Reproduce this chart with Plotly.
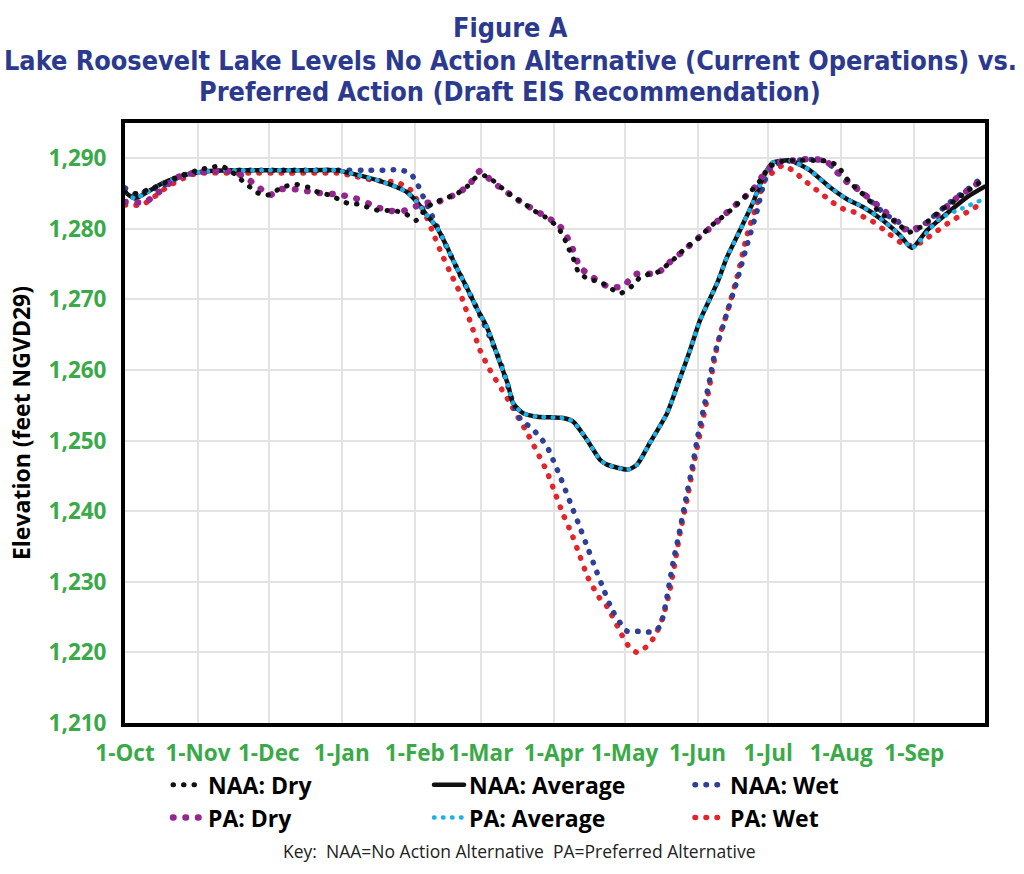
import plotly.graph_objects as go

# ---------------- data (x = days after 1-Oct, y = elevation ft NGVD29) ----------------
month_labels = ["1-Oct", "1-Nov", "1-Dec", "1-Jan", "1-Feb", "1-Mar",
                "1-Apr", "1-May", "1-Jun", "1-Jul", "1-Aug", "1-Sep"]
month_days = [0, 31, 61, 92, 123, 151, 182, 212, 243, 273, 304, 335]
y_ticks = [1210, 1220, 1230, 1240, 1250, 1260, 1270, 1280, 1290]

naa_dry_x = [0, 5.5, 9.3, 14.9, 19.1, 24.2, 31.8, 36.1, 40.7, 44.6, 48.0, 51.8, 55.2, 58.6,
             60.7, 63.7, 66.6, 72.6, 77.7, 81.9, 86.6, 90.8, 94.7, 98.9, 102.7, 107.8, 113.8,
             118.8, 123.5, 128.2, 132.9, 140.9, 145.2, 149.0, 153.2, 157.5, 161.7, 166.0,
             169.8, 174.0, 178.3, 182.9, 185.9, 188.0, 190.2, 192.3, 196.5, 201.6, 205.9,
             210.5, 215.2, 218.2, 222.4, 226.2, 230.5, 233.9, 237.3, 241.1, 244.9, 247.9,
             251.7, 255.5, 258.9, 262.3, 266.1, 270.4, 272.9, 279.3, 285.2, 290.7, 298.0,
             302.2, 307.7, 312.0, 317.1, 320.5, 327.7, 332.3, 337.4, 342.9, 347.2, 351.4,
             355.7, 359.5, 362.9, 365]
naa_dry_y = [1285.2, 1285.0, 1285.5, 1286.2, 1286.9, 1287.6, 1288.4, 1288.7, 1288.9, 1288.3,
             1287.3, 1286.3, 1285.3, 1284.8, 1284.8, 1285.3, 1285.9, 1286.3, 1285.9, 1285.2,
             1284.8, 1284.2, 1283.6, 1283.5, 1283.1, 1282.6, 1282.6, 1282.2, 1281.2, 1283.1,
             1283.9, 1285.0, 1286.0, 1287.3, 1287.5, 1286.5, 1285.3, 1284.3, 1283.5, 1282.5,
             1281.7, 1280.5, 1279.1, 1277.4, 1275.9, 1274.0, 1272.9, 1272.5, 1271.6, 1270.9,
             1271.9, 1273.0, 1273.6, 1273.9, 1275.0, 1276.0, 1277.1, 1278.1, 1279.1, 1280.2,
             1281.2, 1282.2, 1283.2, 1284.3, 1285.5, 1287.2, 1288.7, 1289.6, 1289.7, 1289.7,
             1289.6, 1289.0, 1286.5, 1285.3, 1283.6, 1282.2, 1280.9, 1279.5, 1280.2, 1281.7,
             1282.9, 1283.8, 1284.9, 1285.8, 1286.6, 1287.0]

pa_dry_x = [0, 8.5, 13.6, 22.1, 28.9, 36.9, 43.3, 50.1, 55.6, 61.5, 65.8, 72.6, 81.9, 89.1,
            96.3, 104.0, 111.2, 118.8, 126.5, 133.3, 140.9, 146.0, 150.7, 156.2, 166.8, 173.2,
            178.7, 183.8, 187.2, 189.7, 193.1, 197.8, 204.6, 211.0, 216.9, 225.8, 230.9, 236.4,
            241.1, 246.2, 256.4, 261.9, 266.6, 270.8, 275.9, 283.5, 290.7, 297.5, 302.6, 306.9,
            311.5, 323.4, 327.7, 331.9, 338.3, 344.6, 352.3, 357.8, 362.1, 365]
pa_dry_y = [1283.8, 1283.8, 1285.0, 1287.3, 1287.9, 1288.2, 1288.2, 1287.5, 1286.2, 1284.8,
            1285.6, 1285.6, 1285.1, 1284.9, 1284.5, 1283.5, 1282.6, 1282.6, 1283.6, 1283.9,
            1285.0, 1286.2, 1288.2, 1286.6, 1284.1, 1282.8, 1281.7, 1280.7, 1279.1, 1277.4,
            1274.6, 1273.3, 1271.9, 1271.8, 1273.6, 1273.7, 1275.2, 1276.7, 1278.1, 1279.5,
            1282.6, 1284.2, 1285.6, 1287.6, 1289.3, 1289.7, 1289.9, 1289.6, 1287.9, 1286.5,
            1285.5, 1282.2, 1280.8, 1279.8, 1280.4, 1281.9, 1284.2, 1285.5, 1286.5, 1286.8]

naa_avg_x = [0, 4.2, 9.3, 16.1, 22.5, 28.9, 36.1, 45, 60, 75, 90.0, 95.5, 107.0, 115.4, 119.7,
             123.9, 128.2, 132.4, 136.7, 140.9, 145.2, 149.4, 153.7, 159.2, 162.6, 164.7, 168.9,
             174.9, 185.9, 190.2, 196.1, 201.6, 204.6, 213.5, 217.3, 222.8, 230.1, 235.6, 239.8,
             244.1, 251.3, 255.5, 261.0, 266.6, 270.8, 275.0, 282.3, 285.2, 290.7, 299.2, 306.5,
             313.2, 321.7, 328.9, 334.0, 340.4, 348.9, 357.4, 365]
naa_avg_y = [1285.2, 1284.3, 1285.2, 1286.5, 1287.3, 1287.9, 1288.2, 1288.3, 1288.3, 1288.3,
             1288.3, 1287.9, 1286.9, 1285.9, 1285.2, 1283.8, 1281.9, 1280.2, 1277.4, 1274.4,
             1271.6, 1268.7, 1266.0, 1261.0, 1257.9, 1255.3, 1253.9, 1253.4, 1253.2, 1252.7,
             1250.1, 1247.3, 1246.6, 1245.9, 1246.6, 1249.7, 1253.9, 1258.9, 1262.8, 1267.1,
             1272.3, 1276.0, 1279.8, 1283.8, 1287.3, 1289.4, 1289.7, 1289.3, 1288.3, 1285.9,
             1284.2, 1283.1, 1281.2, 1279.1, 1277.3, 1279.8, 1282.2, 1284.5, 1286.0]

pa_avg_x = [0, 4.2, 9.3, 16.1, 22.5, 28.9, 36.1, 45, 60, 75, 90.0, 95.5, 107.0, 115.4, 119.7,
            123.9, 128.2, 132.4, 136.7, 140.9, 145.2, 149.4, 153.7, 159.2, 162.6, 164.7, 168.9,
            174.9, 185.9, 190.2, 196.1, 201.6, 204.6, 213.5, 217.3, 222.8, 230.1, 235.6, 239.8,
            244.1, 251.3, 255.5, 261.0, 266.6, 270.8, 275.0, 282.3, 285.2, 290.7, 299.2, 306.5,
            313.2, 321.7, 328.9, 334.0, 340.4, 345.9, 355.3, 363.8, 365]
pa_avg_y = [1285.2, 1284.3, 1285.2, 1286.5, 1287.3, 1287.9, 1288.2, 1288.3, 1288.3, 1288.3,
            1288.3, 1287.9, 1286.9, 1285.9, 1285.2, 1283.8, 1281.9, 1280.2, 1277.4, 1274.4,
            1271.6, 1268.7, 1266.0, 1261.0, 1257.9, 1255.3, 1253.9, 1253.4, 1253.2, 1252.7,
            1250.1, 1247.3, 1246.6, 1245.9, 1246.6, 1249.7, 1253.9, 1258.9, 1262.8, 1267.1,
            1272.3, 1276.0, 1279.8, 1283.8, 1287.3, 1289.4, 1289.7, 1289.3, 1288.3, 1285.9,
            1284.2, 1283.1, 1281.2, 1279.1, 1277.3, 1279.5, 1281.5, 1282.9, 1284.1, 1284.2]

naa_wet_x = [0, 5.1, 9.8, 14.9, 19.1, 22.5, 27.6, 35, 50, 70, 90, 100.6, 110.4, 115.9, 121.0,
             123.9, 126.1, 128.2, 130.3, 132.4, 134.6, 140.9, 149.4, 159.2, 165.5, 168.5, 171.9,
             175.3, 178.7, 180.8, 182.5, 184.6, 189.7, 193.1, 196.5, 199.9, 203.3, 207.1, 213.1,
             218.2, 223.7, 227.1, 229.6, 231.3, 233.0, 235.1, 237.7, 240.7, 243.2, 246.2, 248.3,
             250.0, 255.5, 259.8, 264.0, 268.3, 271.6, 275.0, 283.5, 293.7, 298.0, 302.6, 306.5,
             310.7, 314.9, 319.2, 323.4, 327.7, 330.2, 334.5, 337.4, 342.9, 350.2, 358.7, 362.9,
             365]
naa_wet_y = [1285.8, 1284.8, 1285.5, 1285.9, 1286.6, 1287.3, 1287.9, 1288.2, 1288.3, 1288.3,
             1288.3, 1288.3, 1288.3, 1288.4, 1287.9, 1286.5, 1284.9, 1283.4, 1281.9, 1280.4,
             1278.8, 1274.4, 1268.7, 1261.2, 1254.6, 1252.7, 1252.0, 1250.8, 1249.4, 1248.0,
             1246.6, 1245.0, 1240.6, 1237.7, 1234.7, 1231.7, 1228.8, 1225.8, 1223.0, 1223.0,
             1222.9, 1223.7, 1227.1, 1230.3, 1233.4, 1236.7, 1241.2, 1246.2, 1250.8, 1255.5,
             1258.9, 1261.9, 1268.1, 1272.7, 1277.7, 1282.6, 1286.9, 1289.0, 1289.7, 1289.8,
             1289.5, 1287.9, 1286.9, 1285.9, 1284.5, 1283.1, 1281.9, 1281.2, 1280.2, 1279.7,
             1280.2, 1281.7, 1283.8, 1285.9, 1287.0, 1287.2]

pa_wet_x = [0, 7.2, 11.5, 14.9, 19.1, 23.3, 27.6, 31.8, 50, 70, 90, 95.5, 105.3, 115.4, 121.0,
            123.1, 126.5, 130.3, 133.7, 137.9, 142.2, 147.3, 150.7, 154.9, 160.0, 162.6, 167.7,
            170.2, 174.9, 179.1, 182.5, 185.9, 189.7, 193.1, 196.5, 201.2, 204.6, 211.0, 213.5,
            217.3, 222.0, 225.0, 228.4, 231.3, 233.4, 235.6, 238.5, 241.1, 244.1, 247.0, 250.4,
            252.5, 255.5, 259.8, 264.0, 268.3, 271.6, 279.3, 284.4, 287.8, 292.0, 296.3, 300.1,
            304.3, 308.6, 312.8, 317.1, 323.9, 331.1, 336.2, 340.4, 345.1, 349.3, 353.6, 358.7,
            362.9, 365]
pa_wet_y = [1283.4, 1283.4, 1284.3, 1285.2, 1286.2, 1286.9, 1287.6, 1287.9, 1287.9, 1287.9,
            1287.9, 1287.6, 1286.9, 1286.6, 1285.6, 1284.5, 1282.8, 1279.8, 1277.0, 1273.9,
            1270.9, 1266.1, 1262.8, 1260.0, 1257.2, 1255.8, 1252.8, 1251.4, 1248.4, 1245.6,
            1242.6, 1239.6, 1236.7, 1233.6, 1230.6, 1227.8, 1226.5, 1222.4, 1221.0, 1220.0,
            1221.0, 1222.4, 1225.1, 1228.9, 1232.7, 1237.0, 1241.6, 1246.2, 1251.1, 1255.8,
            1261.9, 1265.0, 1268.1, 1273.2, 1279.1, 1283.6, 1286.9, 1289.0, 1288.0, 1287.0,
            1285.9, 1284.8, 1283.8, 1282.9, 1282.5, 1281.8, 1281.1, 1279.4, 1277.7, 1277.8,
            1278.7, 1279.8, 1280.8, 1281.7, 1282.6, 1283.5, 1283.8]

title_lines = ["Figure A",
               "Lake Roosevelt Lake Levels No Action Alternative (Current Operations) vs.",
               "Preferred Action (Draft EIS Recommendation)"]
key_text = "Key:  NAA=No Action Alternative  PA=Preferred Alternative"

# ---------------- styling ----------------
BLACK = "#111111"
PURPLE = "#93278f"
CYAN = "#1ab0ec"
NAVY = "#2e3f95"
RED = "#e3242b"
GREEN = "#3aaa48"
TITLE_BLUE = "#2b3a8f"

series = [
    # name, x, y, color, width, dash, legendrank
    ("PA: Wet", pa_wet_x, pa_wet_y, RED, 5.5, "0.5px,10.5px", 6),
    ("NAA: Wet", naa_wet_x, naa_wet_y, NAVY, 5.5, "0.5px,10.5px", 3),
    ("NAA: Average", naa_avg_x, naa_avg_y, BLACK, 4.5, "solid", 2),
    ("PA: Average", pa_avg_x, pa_avg_y, CYAN, 4.5, "0.5px,8.5px", 5),
    ("PA: Dry", pa_dry_x, pa_dry_y, PURPLE, 6.5, "0.5px,12px", 4),
    ("NAA: Dry", naa_dry_x, naa_dry_y, BLACK, 5, "0.5px,10px", 1),
]

fig = go.Figure()
for name, xs, ys, color, width, dash, rank in series:
    fig.add_trace(go.Scatter(
        x=xs, y=ys, name=name, mode="lines",
        line=dict(color=color, width=width, dash=dash, shape="spline", smoothing=0.6),
        legendrank=rank,
    ))

PLOT_TOP, PLOT_H = 123, 600
title_centers = [28, 60, 91]
annotations = []
for line, yc in zip(title_lines, title_centers):
    annotations.append(dict(
        text=line, xref="paper", yref="paper", x=0.4477, y=(PLOT_TOP + PLOT_H - yc) / PLOT_H,
        xanchor="center", yanchor="middle", showarrow=False,
        font=dict(family="DejaVu Sans Condensed, Open Sans", size=26.8, color=TITLE_BLUE,
                  weight="bold"),
    ))
annotations.append(dict(
    text=key_text, xref="paper", yref="paper", x=0.459, y=(PLOT_TOP + PLOT_H - 851) / PLOT_H,
    xanchor="center", yanchor="middle", showarrow=False,
    font=dict(family="Open Sans", size=17.5, color="#222222"),
))

fig.update_layout(
    width=1024, height=874,
    margin=dict(l=125, r=39, t=PLOT_TOP, b=874 - PLOT_TOP - PLOT_H),
    paper_bgcolor="white", plot_bgcolor="white",
    showlegend=True,
    legend=dict(
        orientation="h", x=0.05, xanchor="left", y=-0.067, yanchor="top",
        entrywidth=216, entrywidthmode="pixels",
        font=dict(family="Open Sans", size=23, color="black", weight="bold"),
        traceorder="normal", tracegroupgap=0, itemwidth=30,
        bgcolor="rgba(0,0,0,0)",
    ),
    xaxis=dict(
        range=[0, 365], tickmode="array", tickvals=month_days, ticktext=month_labels,
        showgrid=True, gridcolor="#e3e3e3", gridwidth=2,
        showline=True, linecolor="black", linewidth=4, mirror=True,
        ticks="outside", ticklen=7, tickcolor="rgba(0,0,0,0)",
        tickfont=dict(family="Open Sans", size=22.5, color=GREEN, weight="bold"),
        zeroline=False,
    ),
    yaxis=dict(
        range=[1210, 1295], tickmode="array", tickvals=y_ticks, tickformat=",",
        showgrid=True, gridcolor="#e3e3e3", gridwidth=2,
        showline=True, linecolor="black", linewidth=4, mirror=True,
        ticks="outside", ticklen=10, tickcolor="rgba(0,0,0,0)",
        tickfont=dict(family="Open Sans", size=22.5, color=GREEN, weight="bold"),
        title=dict(text="Elevation (feet NGVD29)", standoff=13,
                   font=dict(family="Open Sans", size=23, color="black", weight="bold")),
        zeroline=False,
    ),
    annotations=annotations,
)

round_dots = (
    "document.body.style.margin='0';"
    "document.querySelectorAll('path.js-line').forEach(p => p.style.strokeLinecap = 'round');"
)
fig.write_html("out.html", config={"displayModeBar": False}, post_script=round_dots)
